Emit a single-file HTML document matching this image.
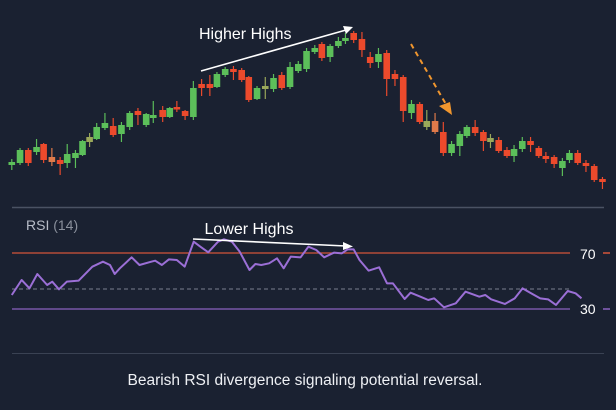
<!DOCTYPE html>
<html><head><style>
html,body{margin:0;padding:0;background:#1a2131;}
svg{display:block;}
text{font-family:"Liberation Sans",sans-serif;}
</style></head><body>
<svg id="s" width="616" height="410" viewBox="0 0 616 410" xmlns="http://www.w3.org/2000/svg">
<rect width="616" height="410" fill="#1a2131"/>
<g id="c" transform="scale(1.179,1)"></g>
<line x1="12" y1="207.5" x2="604" y2="207.5" stroke="#4a5263" stroke-width="1.5"/>
<line x1="12" y1="353.5" x2="604" y2="353.5" stroke="#3a4253" stroke-width="1"/>
<text x="199" y="39" fill="#fff" font-size="16">Higher Highs</text>
<line x1="201" y1="71" x2="346" y2="30" stroke="#fff" stroke-width="1.6"/>
<polygon points="353,27 343,26 346,34" fill="#fff"/>
<line x1="411" y1="44" x2="447" y2="106" stroke="#f0962e" stroke-width="2" stroke-dasharray="5,4"/>
<polygon points="452,115 439,106 450,102" fill="#f0962e"/>
<text x="26" y="230" fill="#b8bdc8" font-size="14">RSI <tspan fill="#8a909c">(14)</tspan></text>
<line x1="12" y1="253" x2="570" y2="253" stroke="#d4553a" stroke-width="1.2"/>
<line x1="12" y1="289" x2="570" y2="289" stroke="#7a8090" stroke-width="1" stroke-dasharray="4,3"/>
<line x1="12" y1="309" x2="570" y2="309" stroke="#8a62c0" stroke-width="1.2"/>
<text x="580" y="259" fill="#fff" font-size="14">70</text><line x1="603" y1="253" x2="610" y2="253" stroke="#d4553a" stroke-width="1.5"/>
<text x="580" y="314" fill="#fff" font-size="14">30</text><line x1="603" y1="309" x2="610" y2="309" stroke="#8a62c0" stroke-width="1.5"/>
<g transform="translate(0,200) scale(0.3929,0.3333)">
<polyline fill="none" stroke="#9b6fd6" stroke-width="2" vector-effect="non-scaling-stroke" stroke-linejoin="round" points="30,285 55,240 75,265 95,222 120,255 133,245 150,268 170,245 200,242 235,200 262,185 280,195 292,222 305,205 335,172 355,195 385,185 395,182 412,195 430,178 450,180 470,200 493,125 510,140 530,157 555,125 570,118 590,125 610,155 635,210 650,192 665,195 685,190 705,175 722,205 740,170 765,172 785,140 805,150 825,172 850,158 870,160 885,148 900,148 915,180 938,212 965,202 985,250 1000,250 1030,297 1045,278 1070,290 1090,300 1105,295 1130,322 1160,310 1185,275 1220,290 1235,285 1250,298 1285,312 1310,295 1330,265 1355,282 1375,295 1395,298 1415,315 1445,273 1465,280 1480,295"/>
</g>
<text x="249" y="234" fill="#fff" font-size="16" text-anchor="middle">Lower Highs</text>
<line x1="193" y1="239" x2="346" y2="246" stroke="#fff" stroke-width="1.6"/>
<polygon points="353,246.5 343,242 343,250" fill="#fff"/>
<text x="305" y="385" fill="#eef0f4" font-size="15.5" text-anchor="middle">Bearish RSI divergence signaling potential reversal.</text>
</svg>
<script>
var d=[[10,162,165,'g',159,170],[17,150,163,'g',148,165],[24,150,163,'r',148,166],[31,147,152,'g',139,155],[37,144,160,'r',143,163],[44,157,162,'o',148,166],[51,160,164,'r',157,175],[57,154,163,'g',144,168],[64,153,158,'g',150,168],[70,141,155,'g',140,156],[76,137,142,'y',133,147],[82,127,139,'g',123,140],[89,123,128,'g',113,130],[96,126,135,'r',118,137],[103,125,134,'g',122,142],[110,113,127,'g',111,130],[117,111,115,'r',108,125],[124,114,125,'g',113,127],[130,115,118,'g',101,123],[138,110,117,'r',106,122],[144,108,117,'g',107,118],[150,107,109,'r',101,112],[157,111,116,'r',110,120],[164,88,117,'g',81,120],[171,84,88,'r',79,96],[178,84,88,'r',75,96],[184,74,87,'g',72,88],[191,69,75,'g',67,77],[198,69,72,'r',66,80],[205,70,80,'r',68,82],[211,77,100,'r',76,102],[218,88,99,'g',86,100],[225,86,89,'y',77,99],[232,78,89,'g',74,92],[239,75,88,'r',72,90],[246,67,87,'g',62,89],[253,64,71,'g',61,73],[260,51,69,'g',48,72],[267,48,52,'g',45,54],[273,44,58,'r',42,61],[280,46,57,'g',44,62],[287,41,46,'g',37,48],[293,38,41,'g',33,44],[300,33,40,'r',31,43],[307,39,50,'r',32,57],[314,57,63,'r',52,68],[321,54,62,'g',48,68],[328,53,79,'r',50,96],[335,74,79,'r',70,86],[342,77,111,'r',75,122],[349,104,113,'g',100,119],[356,104,122,'r',102,124],[362,121,127,'y',110,130],[369,121,132,'o',113,134],[376,132,153,'r',122,156],[383,144,153,'g',141,156],[390,134,146,'g',131,156],[396,127,136,'g',125,138],[403,127,133,'r',120,136],[410,132,141,'r',130,151],[416,138,142,'y',134,148],[423,140,151,'r',137,153],[430,150,156,'r',147,158],[436,149,156,'g',145,162],[443,141,149,'g',137,152],[450,141,145,'r',137,152],[457,148,156,'r',146,158],[463,156,159,'r',152,163],[470,157,164,'r',155,168],[477,161,168,'g',158,176],[483,153,160,'g',150,163],[490,153,163,'r',150,165],[497,163,166,'r',160,172],[504,166,180,'r',164,182],[511,179,182,'r',177,189]];
var col={g:'#5cbf5a',r:'#ec4a2c',o:'#e07a4a',y:'#9aa85a'};var h='';
d.forEach(function(a){var c=col[a[3]];h+='<line x1="'+a[0]+'" x2="'+a[0]+'" y1="'+a[4]+'" y2="'+a[5]+'" stroke="'+c+'" stroke-width="1"/><rect x="'+(a[0]-2.8)+'" y="'+a[1]+'" width="5.6" height="'+Math.max(2.5,a[2]-a[1])+'" fill="'+c+'"/>';});
document.getElementById('c').innerHTML=h;
</script>
</body></html>
